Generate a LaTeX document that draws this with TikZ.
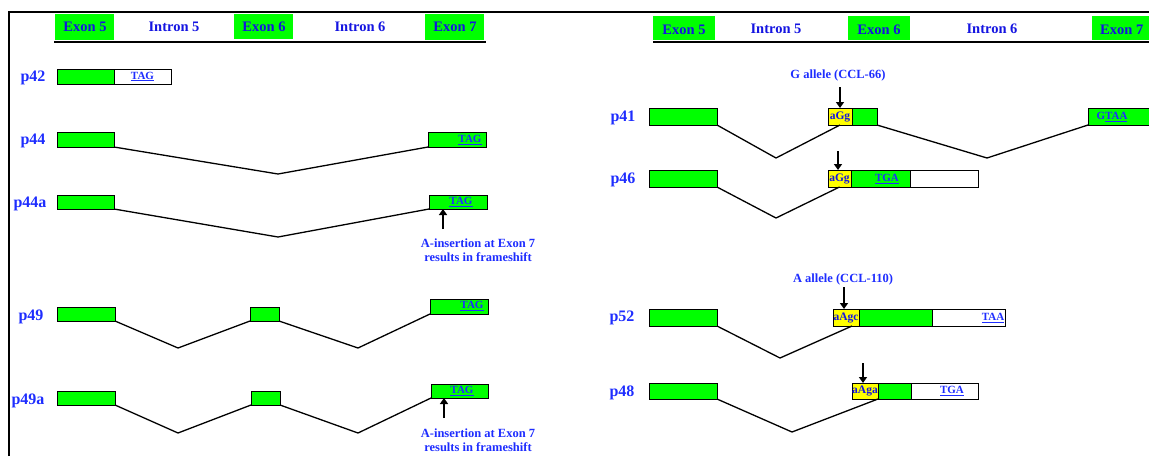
\documentclass[tikz,border=0pt]{standalone}
\usepackage{fontspec}
\setmainfont{Liberation Serif}
\usetikzlibrary{arrows.meta}
\definecolor{exgreen}{RGB}{0,255,0}
\definecolor{ylw}{RGB}{255,255,0}
\definecolor{hblue}{RGB}{20,20,225}
\definecolor{lblue}{RGB}{30,45,255}
\tikzset{
  box/.style={draw=black, line width=0.9pt, inner sep=0pt, outer sep=0pt, anchor=north west},
  ex/.style={box, fill=exgreen},
  wh/.style={box, fill=white},
  yl/.style={box, fill=ylw},
  hdr/.style={fill=exgreen, inner sep=0pt, outer sep=0pt, anchor=north west},
  htxt/.style={text=hblue, font=\fontsize{14.5}{15}\selectfont\bfseries, inner sep=0pt},
  lbl/.style={text=lblue, font=\fontsize{16}{16}\selectfont\bfseries, inner sep=0pt},
  cod/.style={text=lblue, font=\fontsize{11}{11}\selectfont\bfseries, inner sep=0pt},
  ycod/.style={text=hblue, font=\fontsize{11.5}{11.5}\selectfont\bfseries, inner sep=0pt},
  note/.style={text=lblue, font=\fontsize{12.5}{14}\selectfont\bfseries, inner sep=0pt, align=center},
  spl/.style={draw=black, line width=1.3pt},
  arr/.style={draw=black, line width=2pt, -{Triangle[width=8pt,length=6pt]}},
}
\begin{document}
\begin{tikzpicture}[x=1pt,y=-1pt]
\useasboundingbox (0,0) rectangle (1149,456);
% frame
\draw[line width=2pt] (9,456) -- (9,12) -- (1149,12);
% ---------- left header ----------
\node[hdr, minimum width=59, minimum height=26] (lh5) at (55,14) {};
\node[hdr, minimum width=59, minimum height=25] (lh6) at (234,14) {};
\node[hdr, minimum width=59, minimum height=26] (lh7) at (425,14) {};
\node[htxt] (lt5) at (85,27) {Exon 5};
\node[htxt] (lti5) at (174,27) {Intron 5};
\node[htxt] (lt6) at (264,27) {Exon 6};
\node[htxt] (lti6) at (360,27) {Intron 6};
\node[htxt] (lt7) at (455,27) {Exon 7};
\draw[line width=2.5pt] (54,42) -- (486,42);
% ---------- right header ----------
\node[hdr, minimum width=62, minimum height=24] (rh5) at (653,16) {};
\node[hdr, minimum width=62, minimum height=24] (rh6) at (848,16) {};
\node[hdr, minimum width=57, minimum height=24] (rh7) at (1092,16) {};
\node[htxt] (rt5) at (684,30) {Exon 5};
\node[htxt] (rti5) at (776,29) {Intron 5};
\node[htxt] (rt6) at (879,30) {Exon 6};
\node[htxt] (rti6) at (992,29) {Intron 6};
\node[htxt, anchor=west] (rt7) at (1100,30) {Exon 7};
\draw[line width=2.5pt] (653,42) -- (1149,42);

% ---------- p42 ----------
\node[lbl] (l42) at (33,78) {p42};
\node[ex, minimum width=57, minimum height=15] (p42a) at (57,69) {};
\node[wh, minimum width=57, minimum height=15, cod] (p42b) at (114,69) {\underline{TAG}};

% ---------- p44 ----------
\node[lbl] (l44) at (33,141) {p44};
\node[ex, minimum width=57, minimum height=15] (p44a5) at (57,132) {};
\node[ex, minimum width=58, minimum height=15] (p44a7) at (428,132) {};
\node[cod] (t44) at (470,140) {\underline{TAG}};
\coordinate (v44) at (278,174);
\draw[spl] (p44a5.south east) -- (v44) -- (p44a7.south west);

% ---------- p44a ----------
\node[lbl] (l44a) at (30,204) {p44a};
\node[ex, minimum width=57, minimum height=14] (p44b5) at (57,195) {};
\node[ex, minimum width=58, minimum height=14] (p44b7) at (429,195) {};
\node[cod] (t44a) at (461,202) {\underline{TAG}};
\coordinate (v44a) at (278,237);
\draw[spl] (p44b5.south east) -- (v44a) -- (p44b7.south west);
\coordinate (a44t) at (443,229);
\draw[arr] (a44t) -- (a44t |- p44b7.south);
\node[note] (n44a) at (478,250) {A-insertion at Exon 7\\results in frameshift};

% ---------- p49 ----------
\node[lbl] (l49) at (31,317) {p49};
\node[ex, minimum width=58, minimum height=14] (p49e5) at (57,307) {};
\node[ex, minimum width=29, minimum height=14] (p49e6) at (250,307) {};
\node[ex, minimum width=58, minimum height=15] (p49e7) at (430,299) {};
\node[cod] (t49) at (472,306) {\underline{TAG}};
\coordinate (v49a) at (178,348);
\coordinate (v49b) at (358,348);
\draw[spl] (p49e5.south east) -- (v49a) -- (p49e6.south west);
\draw[spl] (p49e6.south east) -- (v49b) -- (p49e7.south west);

% ---------- p49a ----------
\node[lbl] (l49a) at (28,401) {p49a};
\node[ex, minimum width=58, minimum height=14] (p49f5) at (57,391) {};
\node[ex, minimum width=29, minimum height=14] (p49f6) at (251,391) {};
\node[ex, minimum width=57, minimum height=14] (p49f7) at (431,384) {};
\node[cod] (t49a) at (462,391) {\underline{TAG}};
\coordinate (v49c) at (178,433);
\coordinate (v49d) at (358,433);
\draw[spl] (p49f5.south east) -- (v49c) -- (p49f6.south west);
\draw[spl] (p49f6.south east) -- (v49d) -- (p49f7.south west);
\coordinate (a49t) at (444,418);
\draw[arr] (a49t) -- (a49t |- p49f7.south);
\node[note] (n49a) at (478,440) {A-insertion at Exon 7\\results in frameshift};

% ---------- p41 ----------
\node[note] (gal) at (838,75) {G allele (CCL-66)};
\node[lbl] (l41) at (623,118) {p41};
\node[ex, minimum width=68, minimum height=17] (p41e5) at (649,108) {};
\node[yl, minimum width=24, minimum height=17, ycod] (p41y) at (828,108) {aGg};
\node[ex, minimum width=25, minimum height=17] (p41g) at (852,108) {};
\node[ex, minimum width=70, minimum height=17] (p41e7) at (1088,108) {};
\node[cod] (t41) at (1112,117) {G\underline{TAA}};
\coordinate (v41a) at (776,158);
\coordinate (v41b) at (987,158);
\draw[spl] (p41e5.south east) -- (v41a) -- (p41y.south);
\draw[spl] (p41g.south east) -- (v41b) -- (p41e7.south west);
\coordinate (a41t) at (840,87);
\draw[arr] (a41t) -- (a41t |- p41y.north);

% ---------- p46 ----------
\node[lbl] (l46) at (623,180) {p46};
\node[ex, minimum width=68, minimum height=17] (p46e5) at (649,170) {};
\node[yl, minimum width=23, minimum height=17, ycod] (p46y) at (828,170) {aGg};
\node[ex, minimum width=59, minimum height=17] (p46g) at (851,170) {};
\node[wh, minimum width=68, minimum height=17] (p46w) at (910,170) {};
\node[cod] (t46) at (887,179) {\underline{TGA}};
\coordinate (v46) at (776,218);
\draw[spl] (p46e5.south east) -- (v46) -- (p46y.south);
\coordinate (a46t) at (838,151);
\draw[arr] (a46t) -- (a46t |- p46y.north);

% ---------- p52 ----------
\node[note] (aal) at (843,279) {A allele (CCL-110)};
\node[lbl] (l52) at (622,318) {p52};
\node[ex, minimum width=68, minimum height=17] (p52e5) at (649,309) {};
\node[yl, minimum width=26, minimum height=17, ycod] (p52y) at (833,309) {aAgc};
\node[ex, minimum width=73, minimum height=17] (p52g) at (859,309) {};
\node[wh, minimum width=73, minimum height=17] (p52w) at (932,309) {};
\node[cod] (t52) at (993,318) {\underline{TAA}};
\coordinate (v52) at (780,358);
\draw[spl] (p52e5.south east) -- (v52) -- ([xshift=6pt]p52y.south);
\coordinate (a52t) at (844,287);
\draw[arr] (a52t) -- (a52t |- p52y.north);

% ---------- p48 ----------
\node[lbl] (l48) at (622,393) {p48};
\node[ex, minimum width=68, minimum height=16] (p48e5) at (649,383) {};
\node[yl, minimum width=26, minimum height=16, ycod] (p48y) at (852,383) {aAga};
\node[ex, minimum width=33, minimum height=16] (p48g) at (878,383) {};
\node[wh, minimum width=67, minimum height=16] (p48w) at (911,383) {};
\node[cod] (t48) at (952,391) {\underline{TGA}};
\coordinate (v48) at (792,432);
\draw[spl] (p48e5.south east) -- (v48) -- (p48y.south east);
\coordinate (a48t) at (863,363);
\draw[arr] (a48t) -- (a48t |- p48y.north);
\end{tikzpicture}
\end{document}
